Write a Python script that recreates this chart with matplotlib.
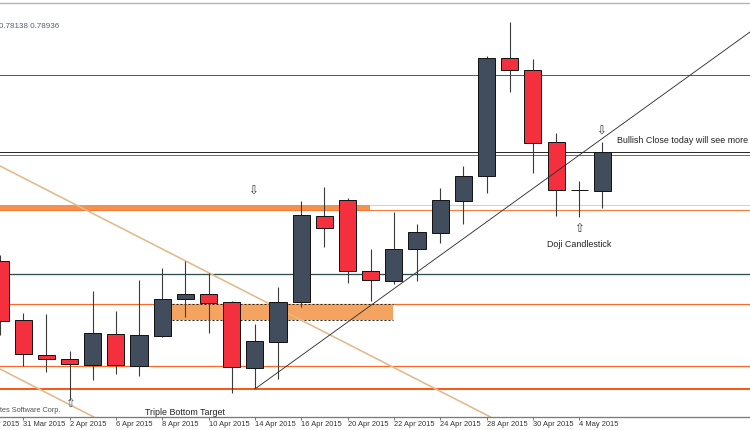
import matplotlib
matplotlib.use("Agg")
import matplotlib.pyplot as plt
from matplotlib.patches import Rectangle
import matplotlib.transforms as mtransforms

# ---------------- data (AUDUSD daily) ----------------
dates = ["30 Mar", "31 Mar", "1 Apr", "2 Apr", "3 Apr", "6 Apr", "7 Apr", "8 Apr",
         "9 Apr", "10 Apr", "13 Apr", "14 Apr", "15 Apr", "16 Apr", "17 Apr",
         "20 Apr", "21 Apr", "22 Apr", "23 Apr", "24 Apr", "27 Apr", "28 Apr",
         "29 Apr", "30 Apr", "1 May", "4 May", "5 May"]
opens = [0.77383, 0.76542, 0.76043, 0.75986, 0.75901, 0.76343, 0.75887, 0.76314,
         0.76841, 0.76913, 0.76799, 0.75858, 0.76229, 0.76799, 0.78024, 0.78252,
         0.77240, 0.77098, 0.77554, 0.77782, 0.78238, 0.78594, 0.80276, 0.80105,
         0.79079, 0.78395, 0.78380]
highs = [0.77468, 0.76642, 0.76628, 0.76100, 0.76955, 0.76670, 0.77112, 0.77283,
         0.77383, 0.77212, 0.76810, 0.76485, 0.77012, 0.78238, 0.78437, 0.78281,
         0.77554, 0.78081, 0.77910, 0.78423, 0.78737, 0.80304, 0.80789, 0.80261,
         0.79207, 0.78523, 0.79079]
lows = [0.76328, 0.75887, 0.75801, 0.75402, 0.75687, 0.75773, 0.75744, 0.76300,
        0.76585, 0.76357, 0.75502, 0.75573, 0.75701, 0.76727, 0.77582, 0.77069,
        0.76813, 0.77055, 0.77098, 0.77639, 0.77910, 0.78352, 0.79791, 0.78637,
        0.78024, 0.78010, 0.78138]
closes = [0.76528, 0.76058, 0.75986, 0.75915, 0.76357, 0.75901, 0.76328, 0.76841,
          0.76913, 0.76784, 0.75872, 0.76243, 0.76799, 0.78038, 0.77853, 0.77240,
          0.77112, 0.77554, 0.77796, 0.78252, 0.78594, 0.80276, 0.80105, 0.79064,
          0.78395, 0.78393, 0.78936]
prev_label = "27 Mar"
year = "2015"

# horizontal levels
green_level = 0.80033
close_level = 0.78936
close_level2 = 0.78893
zone_top = 0.78181
zone_bottom = 0.78110
slate_level = 0.77198
support_levels = [0.76770, 0.75887]
bottom_level = 0.75559
box_top = 0.76770
box_bottom = 0.76542

# trend lines (two points each, in bar index / price)
up_trend = [(11.0, 0.75559), (32.37, 0.80646)]
down_trend1 = [(0.0, 0.78737), (21.17, 0.75160)]
down_trend2 = [(0.0, 0.75844), (4.0, 0.75168)]

# ---------------- figure ----------------
W, H = 750, 430
fig = plt.figure(figsize=(W / 100, H / 100), dpi=100)
ax = fig.add_axes([0, (H - 417) / H, 1, 414 / H])
ax.set_xlim(0, 750 / 23.17)
ax.set_ylim(0.75160, 0.81059)
ax.set_facecolor("white")

px = 0.72  # one pixel in points

# levels
ax.axhline(green_level, color="#3d6e45", lw=px, zorder=1)
ax.axhline(close_level, color="#2b2b2b", lw=px, zorder=1)
ax.axhline(close_level2, color="#5d7a78", lw=px, zorder=1)
ax.axhline(zone_top, color="#fbc3a6", lw=px, zorder=1)
ax.axhline(zone_bottom, color="#f9793a", lw=px, zorder=1)
ax.axhline(slate_level, color="#2f4f4f", lw=px * 1.3, zorder=1)
for lv in support_levels:
    ax.axhline(lv, color="#fb6a2a", lw=px * 1.2, zorder=1)
ax.axhline(bottom_level, color="#fb5a14", lw=px * 2, zorder=1)

# orange zone near top of range
ax.add_patch(Rectangle((-1, zone_bottom), 370 / 23.17 + 1, zone_top - zone_bottom,
                       facecolor="#f4924c", edgecolor="none", zorder=1.2))

# sandy box with dotted edges
bx0, bx1 = 172 / 23.17, 393 / 23.17
ax.add_patch(Rectangle((bx0, box_bottom), bx1 - bx0, box_top - box_bottom,
                       facecolor="#f4a460", edgecolor="none", zorder=1.2))
ax.plot([bx0, bx1], [box_top, box_top], color="#222222", lw=px, ls=(0, (2, 2)), zorder=1.3)
ax.plot([bx0, bx1], [box_bottom, box_bottom], color="#222222", lw=px, ls=(0, (2, 2)), zorder=1.3)

# trend lines
ax.axline(down_trend1[0], down_trend1[1], color="#e3b98a", lw=px * 1.6, zorder=1.5)
ax.axline(down_trend2[0], down_trend2[1], color="#e3b98a", lw=px * 1.6, zorder=1.5)
ax.plot([up_trend[0][0], up_trend[1][0]], [up_trend[0][1], up_trend[1][1]],
        color="#333333", lw=px * 0.9, zorder=3)

# candles
idx = list(range(len(dates)))
ax.vlines(idx, lows, highs, color="#3a3a3a", lw=px * 1.1, zorder=2)
bull_col, bear_col = "#414c5c", "#f5303e"
for i in idx:
    o, c = opens[i], closes[i]
    col = bull_col if c >= o else bear_col
    lo, hi = min(o, c), max(o, c)
    ax.add_patch(Rectangle((i - 0.37, lo), 0.74, max(hi - lo, 1e-6),
                           facecolor=col, edgecolor="#151515", lw=px, zorder=2.5))

# spines / ticks
for s in ["left", "right"]:
    ax.spines[s].set_visible(False)
ax.spines["bottom"].set_color("#7a7a7a")
ax.spines["bottom"].set_linewidth(px * 1.3)
ax.spines["top"].set_color("#b0b0b0")
ax.spines["top"].set_linewidth(px * 1.3)
ax.set_yticks([])
tick_pos = [i for i in idx if i % 2 == 1]
tfs = 5.4
ax.set_xticks(tick_pos)
ax.set_xticklabels([f"{dates[i]} {year}" for i in tick_pos], ha="left",
                   fontsize=tfs, color="#333333", family="Liberation Sans")
ax.tick_params(axis="x", length=2.2, width=px, color="#7a7a7a", pad=1.0)
trans = mtransforms.blended_transform_factory(ax.transData, ax.transAxes)
ax.text(-1, -0.0107, f"{prev_label} {year}", transform=trans, ha="left", va="top",
        fontsize=tfs, color="#333333", family="Liberation Sans", clip_on=False)

# annotations
afs = 6.4
ax.text(-0.05, 0.8072, "0.78138 0.78936", fontsize=5.8, color="#55606e",
        family="Liberation Sans", ha="left", va="center")
arrow_kw = dict(fontsize=8.5, ha="center", va="center", family="DejaVu Sans")
ax.text(10.92, 0.78380, "⇩", color="#333333", **arrow_kw)
ax.text(25.94, 0.79235, "⇩", color="#333333", **arrow_kw)
ax.text(24.99, 0.77839, "⇧", color="#333333", **arrow_kw)
ax.text(3.02, 0.75359, "⇧", color="#4a5a70", zorder=4, **arrow_kw)
ax.text(24.99, 0.77611, "Doji Candlestick", fontsize=afs, ha="center", va="center",
        color="#222222", family="Liberation Sans")
ax.text(26.63, 0.79093, "Bullish Close today will see more", fontsize=afs, ha="left",
        va="center", color="#222222", family="Liberation Sans")
ax.text(7.99, 0.75217, "Triple Bottom Target", fontsize=afs, ha="center", va="center",
        color="#222222", family="Liberation Sans")
ax.text(2.59, 0.75259, "© 2001-2015 MetaQuotes Software Corp.", fontsize=5.3,
        ha="right", va="center", color="#555555", family="Liberation Sans")

fig.savefig("out.png", dpi=100, facecolor="white")
